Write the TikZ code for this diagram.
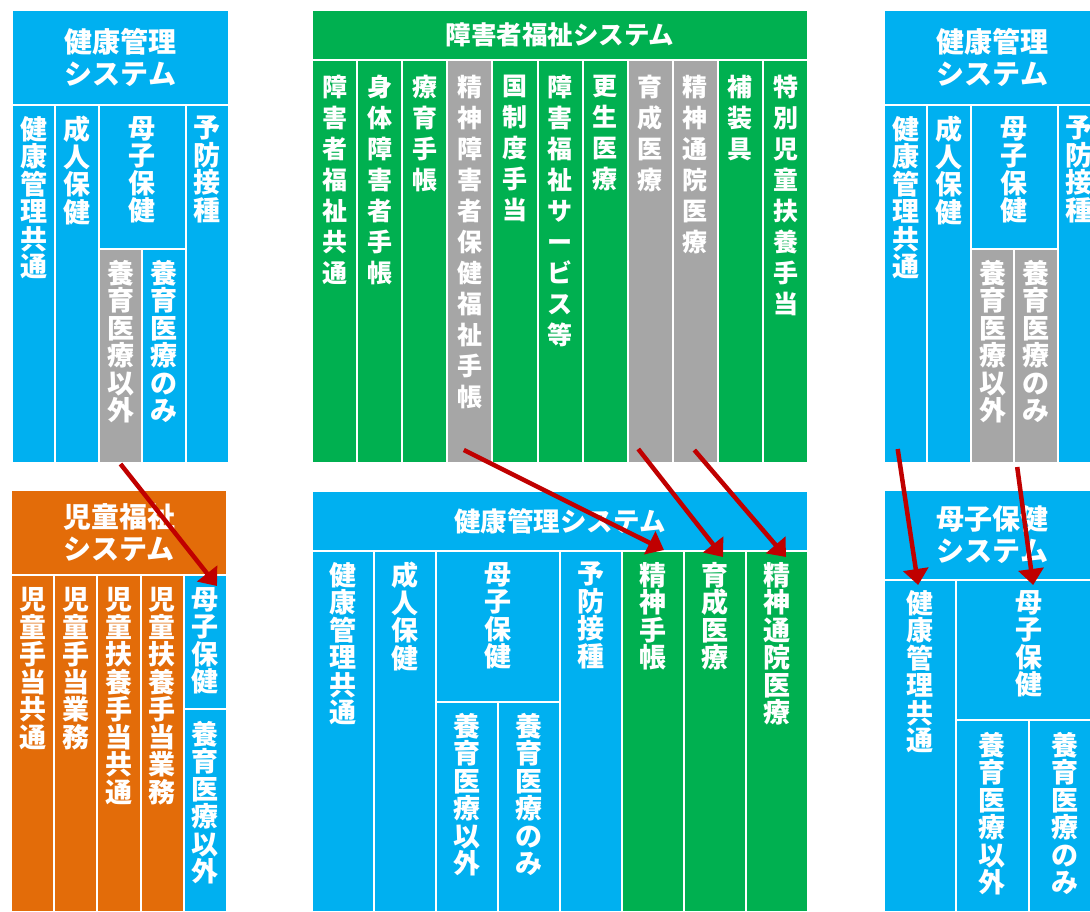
\documentclass[tikz,border=0pt]{standalone}
\usepackage{fontspec}
\setmainfont{Noto Sans CJK JP}
\usepackage{tikz}
\usetikzlibrary{positioning, arrows.meta}
\definecolor{kenblue}{HTML}{00B0F0}
\definecolor{fukugreen}{HTML}{00B050}
\definecolor{jidoorange}{HTML}{E36C09}
\definecolor{offgray}{HTML}{A6A6A6}
\definecolor{linkred}{HTML}{C00000}
\tikzset{
cell/.style 2 args={rectangle, draw=white, line width=2pt, inner sep=0pt, anchor=north west, minimum width=#1pt, minimum height=#2pt},
vtext/.style={text=white, align=center, inner sep=0pt, font=\bfseries\fontsize{27}{27.5}\selectfont},
gtext/.style={vtext, font=\bfseries\fontsize{25}{31}\selectfont},
htext/.style={text=white, align=center, font=\bfseries\fontsize{28}{32}\selectfont},
link/.style={draw=linkred, line width=4.5pt, -{Triangle[length=16pt, width=25pt]}},
}
\begin{document}
\begin{tikzpicture}[x=1pt, y=-1pt]
\useasboundingbox (0,0) rectangle (1090,911);
\clip (0,0) rectangle (1090,911);
\node[cell={217}{95}, fill=kenblue, htext] (ah) at (11,9) {健康管理\\システム};
\node[cell={43.4}{358}, fill=kenblue] (a1) at (11,104) {};
\node[vtext, below=12pt of a1.north] (a1t) {健\\康\\管\\理\\共\\通};
\node[cell={43.4}{358}, fill=kenblue] (a2) at (54.4,104) {};
\node[vtext, below=12pt of a2.north] (a2t) {成\\人\\保\\健};
\node[cell={86.8}{144}, fill=kenblue] (a3) at (97.8,104) {};
\node[vtext, below=12pt of a3.north] (a3t) {母\\子\\保\\健};
\node[cell={43.4}{214}, fill=offgray] (a4) at (97.8,248) {};
\node[vtext, below=12pt of a4.north] (a4t) {養\\育\\医\\療\\以\\外};
\node[cell={43.4}{214}, fill=kenblue] (a5) at (141.2,248) {};
\node[vtext, below=12pt of a5.north] (a5t) {養\\育\\医\\療\\の\\み};
\node[cell={43.4}{358}, fill=kenblue] (a6) at (184.6,104) {};
\node[vtext, below=12pt of a6.north] (a6t) {予\\防\\接\\種};

\node[cell={496}{50}, fill=fukugreen, htext, font=\bfseries\fontsize{25.5}{30}\selectfont] (bh) at (311,9) {障害者福祉システム};
\node[cell={45.1}{403}, fill=fukugreen] (b1) at (311,59) {};
\node[gtext, below=16pt of b1.north] (b1t) {障\\害\\者\\福\\祉\\共\\通};
\node[cell={45.1}{403}, fill=fukugreen] (b2) at (356.1,59) {};
\node[gtext, below=16pt of b2.north] (b2t) {身\\体\\障\\害\\者\\手\\帳};
\node[cell={45.1}{403}, fill=fukugreen] (b3) at (401.2,59) {};
\node[gtext, below=16pt of b3.north] (b3t) {療\\育\\手\\帳};
\node[cell={45.1}{403}, fill=offgray] (b4) at (446.3,59) {};
\node[gtext, below=16pt of b4.north] (b4t) {精\\神\\障\\害\\者\\保\\健\\福\\祉\\手\\帳};
\node[cell={45.1}{403}, fill=fukugreen] (b5) at (491.4,59) {};
\node[gtext, below=16pt of b5.north] (b5t) {国\\制\\度\\手\\当};
\node[cell={45.1}{403}, fill=fukugreen] (b6) at (536.5,59) {};
\node[gtext, below=16pt of b6.north] (b6t) {障\\害\\福\\祉\\サ\\ー\\ビ\\ス\\等};
\node[cell={45.1}{403}, fill=fukugreen] (b7) at (581.6,59) {};
\node[gtext, below=16pt of b7.north] (b7t) {更\\生\\医\\療};
\node[cell={45.1}{403}, fill=offgray] (b8) at (626.7,59) {};
\node[gtext, below=16pt of b8.north] (b8t) {育\\成\\医\\療};
\node[cell={45.1}{403}, fill=offgray] (b9) at (671.8,59) {};
\node[gtext, below=16pt of b9.north] (b9t) {精\\神\\通\\院\\医\\療};
\node[cell={45.1}{403}, fill=fukugreen] (b10) at (716.9,59) {};
\node[gtext, below=16pt of b10.north] (b10t) {補\\装\\具};
\node[cell={45.1}{403}, fill=fukugreen] (b11) at (762,59) {};
\node[gtext, below=16pt of b11.north] (b11t) {特\\別\\児\\童\\扶\\養\\手\\当};

\node[cell={217}{95}, fill=kenblue, htext] (ch) at (883,9) {健康管理\\システム};
\node[cell={43.4}{358}, fill=kenblue] (c1) at (883,104) {};
\node[vtext, below=12pt of c1.north] (c1t) {健\\康\\管\\理\\共\\通};
\node[cell={43.4}{358}, fill=kenblue] (c2) at (926.4,104) {};
\node[vtext, below=12pt of c2.north] (c2t) {成\\人\\保\\健};
\node[cell={86.8}{144}, fill=kenblue] (c3) at (969.8,104) {};
\node[vtext, below=12pt of c3.north] (c3t) {母\\子\\保\\健};
\node[cell={43.4}{214}, fill=offgray] (c4) at (969.8,248) {};
\node[vtext, below=12pt of c4.north] (c4t) {養\\育\\医\\療\\以\\外};
\node[cell={43.4}{214}, fill=offgray] (c5) at (1013.2,248) {};
\node[vtext, below=12pt of c5.north] (c5t) {養\\育\\医\\療\\の\\み};
\node[cell={43.4}{358}, fill=kenblue] (c6) at (1056.6,104) {};
\node[vtext, below=12pt of c6.north] (c6t) {予\\防\\接\\種};

\node[cell={216}{85}, fill=jidoorange, htext] (dh) at (10,489) {児童福祉\\システム};
\node[cell={43.2}{337}, fill=jidoorange] (d1) at (10,574) {};
\node[vtext, below=13pt of d1.north] (d1t) {児\\童\\手\\当\\共\\通};
\node[cell={43.2}{337}, fill=jidoorange] (d2) at (53.2,574) {};
\node[vtext, below=13pt of d2.north] (d2t) {児\\童\\手\\当\\業\\務};
\node[cell={43.2}{337}, fill=jidoorange] (d3) at (96.4,574) {};
\node[vtext, below=13pt of d3.north] (d3t) {児\\童\\扶\\養\\手\\当\\共\\通};
\node[cell={43.2}{337}, fill=jidoorange] (d4) at (139.6,574) {};
\node[vtext, below=13pt of d4.north] (d4t) {児\\童\\扶\\養\\手\\当\\業\\務};
\node[cell={43.2}{134}, fill=kenblue] (d5) at (182.8,574) {};
\node[vtext, below=13pt of d5.north] (d5t) {母\\子\\保\\健};
\node[cell={43.2}{203}, fill=kenblue] (d6) at (182.8,708) {};
\node[vtext, below=13pt of d6.north] (d6t) {養\\育\\医\\療\\以\\外};

\node[cell={496}{60}, fill=kenblue, htext, font=\bfseries\fontsize{26.5}{30}\selectfont] (eh) at (311,490) {健康管理システム};
\node[cell={62}{361}, fill=kenblue] (e1) at (311,550) {};
\node[vtext, below=12pt of e1.north] (e1t) {健\\康\\管\\理\\共\\通};
\node[cell={62}{361}, fill=kenblue] (e2) at (373,550) {};
\node[vtext, below=12pt of e2.north] (e2t) {成\\人\\保\\健};
\node[cell={124}{151}, fill=kenblue] (e3) at (435,550) {};
\node[vtext, below=12pt of e3.north] (e3t) {母\\子\\保\\健};
\node[cell={62}{210}, fill=kenblue] (e4) at (435,701) {};
\node[vtext, below=12pt of e4.north] (e4t) {養\\育\\医\\療\\以\\外};
\node[cell={62}{210}, fill=kenblue] (e5) at (497,701) {};
\node[vtext, below=12pt of e5.north] (e5t) {養\\育\\医\\療\\の\\み};
\node[cell={62}{361}, fill=kenblue] (e6) at (559,550) {};
\node[vtext, below=12pt of e6.north] (e6t) {予\\防\\接\\種};
\node[cell={62}{361}, fill=fukugreen] (e7) at (621,550) {};
\node[vtext, below=12pt of e7.north] (e7t) {精\\神\\手\\帳};
\node[cell={62}{361}, fill=fukugreen] (e8) at (683,550) {};
\node[vtext, below=12pt of e8.north] (e8t) {育\\成\\医\\療};
\node[cell={62}{361}, fill=fukugreen] (e9) at (745,550) {};
\node[vtext, below=12pt of e9.north] (e9t) {精\\神\\通\\院\\医\\療};

\node[cell={217}{90}, fill=kenblue, htext] (fh) at (883,489) {母子保健\\システム};
\node[cell={72.3}{332}, fill=kenblue] (f1) at (883,579) {};
\node[vtext, below=11pt of f1.north] (f1t) {健\\康\\管\\理\\共\\通};
\node[cell={144.7}{140}, fill=kenblue] (f2) at (955.3,579) {};
\node[vtext, below=11pt of f2.north] (f2t) {母\\子\\保\\健};
\node[cell={72.3}{192}, fill=kenblue] (f3) at (955.3,719) {};
\node[vtext, below=13pt of f3.north] (f3t) {養\\育\\医\\療\\以\\外};
\node[cell={72.4}{192}, fill=kenblue] (f4) at (1027.6,719) {};
\node[vtext, below=13pt of f4.north] (f4t) {養\\育\\医\\療\\の\\み};

\draw[link] (a4.south) -- ([xshift=11.6pt, yshift=-12pt]d5.north);
\draw[link] ([xshift=-6pt, yshift=14pt]b4.south) -- ([xshift=11pt]e7.north);
\draw[link] ([xshift=-12pt, yshift=15pt]b8.south) -- ([xshift=8pt, yshift=-7pt]e8.north);
\draw[link] ([xshift=-1pt, yshift=14pt]b9.south) -- ([xshift=9pt, yshift=-7pt]e9.north);
\draw[link] ([xshift=-8pt, yshift=15pt]c1.south) -- ([xshift=-2pt, yshift=-6pt]f1.north);
\draw[link] ([xshift=2pt, yshift=-3pt]c4.south east) -- ([xshift=4.5pt, yshift=-6pt]f2.north);
\end{tikzpicture}
\end{document}
